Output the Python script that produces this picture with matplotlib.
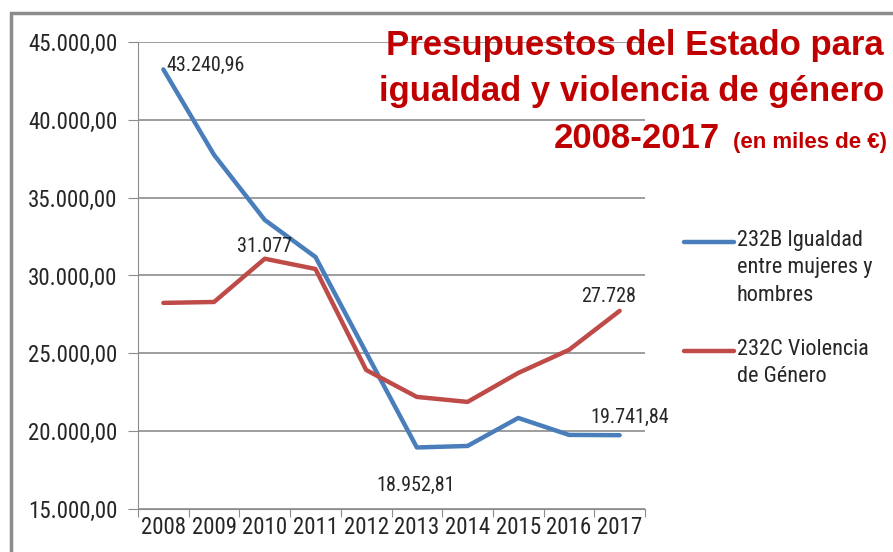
import matplotlib.pyplot as plt
from matplotlib.patches import Rectangle
from matplotlib.lines import Line2D
from matplotlib.ticker import FuncFormatter, FixedLocator

years = ["2008", "2009", "2010", "2011", "2012", "2013", "2014", "2015", "2016", "2017"]
igualdad = [43240.96, 37750, 33570, 31190, 25050, 18952.81, 19050, 20850, 19760, 19741.84]
violencia = [28240, 28300, 31077, 30420, 23930, 22200, 21880, 23740, 25220, 27728]

label_igualdad = "232B Igualdad\nentre mujeres y\nhombres"
label_violencia = "232C Violencia\nde Género"

blue = "#4a7ebb"
red = "#be4b48"
narrow = ["Roboto Condensed", "Liberation Sans", "DejaVu Sans"]
txt = "#262626"

fig = plt.figure(figsize=(8.93, 5.52), dpi=100)
fig.patches.append(Rectangle((11/893, -0.1), 1.2, 1 - 13/552 + 0.1, transform=fig.transFigure,
                             fill=False, edgecolor="#8c8c8c", linewidth=2.5))

ax = fig.add_axes([138/893, 1 - 509/552, 507/893, 467/552])
x = [i + 0.5 for i in range(len(years))]
ax.plot(x, igualdad, color=blue, linewidth=3.2, solid_capstyle="round")
ax.plot(x, violencia, color=red, linewidth=3.2, solid_capstyle="round")

ax.set_xlim(0, 10)
ax.set_ylim(15000, 45000)
ax.set_yticks(range(15000, 45001, 5000))
ax.yaxis.set_major_formatter(FuncFormatter(lambda v, p: f"{v:,.2f}".replace(",", "X").replace(".", ",").replace("X", ".")))
ax.xaxis.set_major_locator(FixedLocator(range(11)))
ax.xaxis.set_major_formatter(FuncFormatter(lambda v, p: ""))
ax.xaxis.set_minor_locator(FixedLocator(x))
ax.set_xticklabels(years, minor=True)
ax.tick_params(axis="x", which="major", length=6, color="#8c8c8c", direction="out")
ax.tick_params(axis="x", which="minor", length=0, pad=5)
ax.tick_params(axis="y", length=7, color="#8c8c8c", pad=8)
for lab in ax.get_xticklabels(minor=True) + ax.get_yticklabels():
    lab.set_family(narrow)
    lab.set_fontsize(16.5)
    lab.set_color(txt)

ax.grid(axis="y", color="#8c8c8c", linewidth=1.2)
ax.set_axisbelow(True)
for s in ["top", "right"]:
    ax.spines[s].set_visible(False)
ax.spines["left"].set_color("#8c8c8c")
ax.spines["bottom"].set_color("#8c8c8c")

lab_kw = dict(family=narrow, fontsize=14.5, color=txt)
ax.annotate("43.240,96", (x[0], igualdad[0]), xytext=(2, 3), textcoords="offset points", ha="left", va="center", **lab_kw)
ax.annotate("31.077", (x[2], violencia[2]), xytext=(0, 9), textcoords="offset points", ha="center", va="center", **lab_kw)
ax.annotate("18.952,81", (x[5], igualdad[5]), xytext=(-1, -27), textcoords="offset points", ha="center", va="center", **lab_kw)
ax.annotate("27.728", (x[9], violencia[9]), xytext=(-8, 10), textcoords="offset points", ha="center", va="center", **lab_kw)
ax.annotate("19.741,84", (x[9], igualdad[9]), xytext=(7, 13), textcoords="offset points", ha="center", va="center", **lab_kw)

# legend: line level with the first text line, as in the original
for label, color, ytop in [(label_igualdad, blue, 242), (label_violencia, red, 351)]:
    yf = 1 - ytop / 552
    fig.add_artist(Line2D([684/893, 734/893], [yf, yf], transform=fig.transFigure,
                          color=color, linewidth=3.2, solid_capstyle="round"))
    fig.text(737/893, yf + 12/552, label, ha="left", va="top", family=narrow, fontsize=16,
             color=txt, linespacing=1.4)

title_color = "#c00000"
title_kw = dict(ha="right", va="center", fontsize=25, fontweight="bold", color=title_color,
                family=["Liberation Sans", "DejaVu Sans"])
fig.text(884/893, 1 - 46/552, "Presupuestos del Estado para", **title_kw)
fig.text(884/893, 1 - 92/552, "igualdad y violencia de género", **title_kw)
fig.text(720/893, 1 - 139/552, "2008-2017", **title_kw)
fig.text(887/893, 1 - 143/552, "(en miles de €)", ha="right", va="center", fontsize=16,
         fontweight="bold", color=title_color, family=["Liberation Sans", "DejaVu Sans"])

fig.savefig("out.png", dpi=100)
